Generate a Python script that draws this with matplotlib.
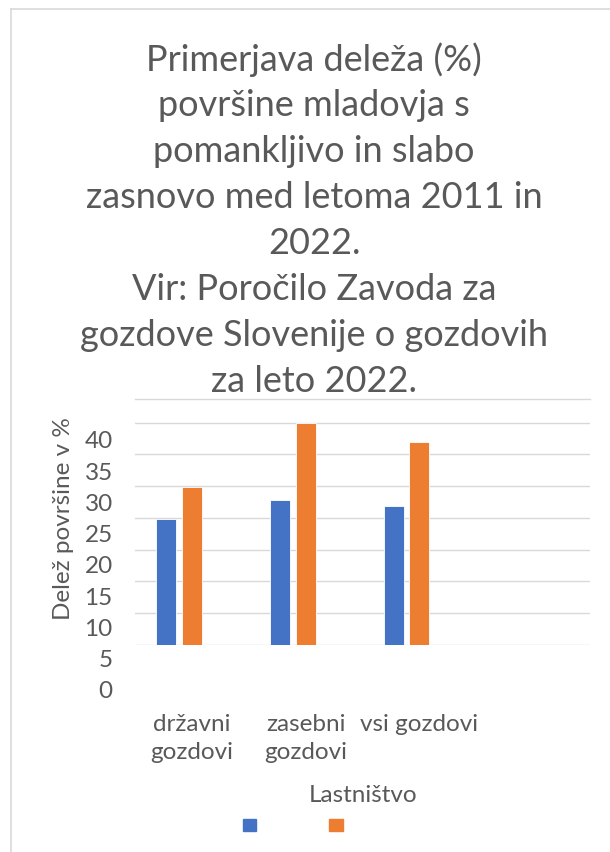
import matplotlib
matplotlib.use("Agg")
import matplotlib.pyplot as plt
from matplotlib.lines import Line2D
import numpy as np

plt.rcParams['font.family'] = ['Lato', 'DejaVu Sans']

# ---- data ----
categories = ["državni\ngozdovi", "zasebni\ngozdovi", "vsi gozdovi", ""]
series_2011 = [19.8, 22.8, 21.9]
series_2022 = [24.9, 34.9, 32.0]
y_ticks = [0, 5, 10, 15, 20, 25, 30, 35, 40]
title_lines = [
    "Primerjava deleža (%)",
    "površine mladovja s",
    "pomankljivo in slabo",
    "zasnovo med letoma 2011 in",
    "2022.",
    "Vir: Poročilo Zavoda za",
    "gozdove Slovenije o gozdovih",
    "za leto 2022.",
]
x_title = "Lastništvo"
y_title = "Delež površine v %"

BLUE = "#4472C4"
ORANGE = "#ED7D31"
TXT = "#595959"
GRID = "#D9D9D9"

W, H = 610, 853
fig = plt.figure(figsize=(W / 100, H / 100), dpi=100)

def fx(px):
    return px / W

def fy(py):
    return (H - py) / H

# outer chart border (left + top)
fig.add_artist(Line2D([fx(11), fx(11)], [fy(10), 0], color=GRID, lw=1.2))
fig.add_artist(Line2D([fx(11), 1], [fy(10), fy(10)], color=GRID, lw=1.2))

# title lines
ty0, tdy = 60, 45.9
for i, line in enumerate(title_lines):
    fig.text(fx(314), fy(ty0 + i * tdy), line, ha="center", va="center",
             fontsize=26, color=TXT)

# main plot axes
ax = fig.add_axes([fx(135), fy(646), fx(590) - fx(135), fy(400) - fy(646)])
x = np.arange(len(series_2011))
bw = 0.176
ax.bar(x - 0.224, series_2011, width=bw, color=BLUE, edgecolor="white", lw=0.6, zorder=3)
ax.bar(x, series_2022, width=bw, color=ORANGE, edgecolor="white", lw=0.6, zorder=3)
ax.set_xlim(-0.5, len(categories) - 0.5)
ax.set_ylim(0, 38.7)
ax.set_yticks(y_ticks[:-1])
ax.set_yticklabels([])
ax.set_xticks([])
ax.tick_params(length=0)
ax.grid(axis="y", color=GRID, lw=1, zorder=0)
for s in ["left", "right", "bottom"]:
    ax.spines[s].set_visible(False)
ax.spines["top"].set_color(GRID)
ax.spines["top"].set_linewidth(1)
ax.patch.set_alpha(0)

# offset label axes (tick labels as rendered in reference)
FS = 17.5
ax2 = fig.add_axes([fx(135), fy(690), fx(590) - fx(135), fy(440) - fy(690)], zorder=-1)
ax2.set_xlim(-0.5, len(categories) - 0.5)
ax2.set_ylim(0, 40)
ax2.set_yticks(y_ticks)
ax2.set_yticklabels([str(v) for v in y_ticks], fontsize=FS, color=TXT)
ax2.set_xticks(range(3))
ax2.set_xticklabels(categories[:3], fontsize=FS, color=TXT, linespacing=1.42)
ax2.tick_params(axis="y", length=0, pad=16)
ax2.tick_params(axis="x", length=0, pad=17)
for s in ax2.spines.values():
    s.set_visible(False)
ax2.patch.set_alpha(0)

# axis titles
fig.text(fx(64), fy(519), y_title, rotation=90, ha="center", va="center",
         fontsize=FS, color=TXT)
fig.text(fx(363), fy(796), x_title, ha="center", va="center", fontsize=FS, color=TXT)

# legend (series names empty)
handles = [plt.Rectangle((0, 0), 1, 1, color=BLUE), plt.Rectangle((0, 0), 1, 1, color=ORANGE)]
fig.legend(handles, ["", ""], ncol=2, loc="center",
           bbox_to_anchor=(fx(292.5), fy(826)), frameon=False, fontsize=10,
           handlelength=0.95, handleheight=0.95, handletextpad=0,
           columnspacing=5.3, borderpad=0, borderaxespad=0)

fig.savefig("out.png", dpi=100)
